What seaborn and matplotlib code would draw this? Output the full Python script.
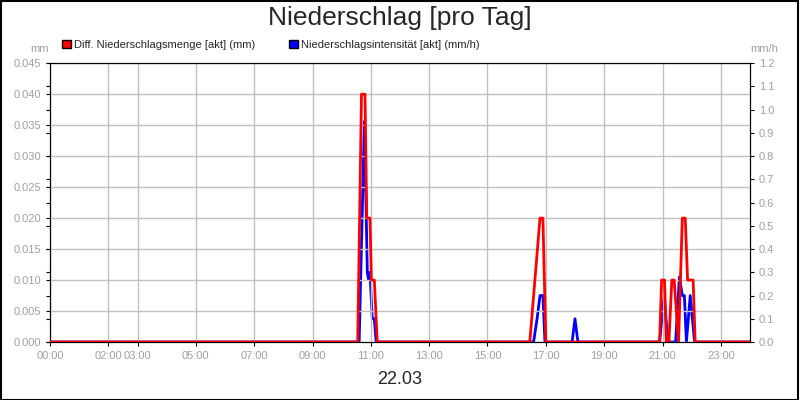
import seaborn as sns
import matplotlib.pyplot as plt
import pandas as pd
from matplotlib.patches import Patch

# hours of day, values
red_hours = [0, 10.55, 10.68, 10.80, 10.86, 10.97, 11.02, 11.12, 11.22, 16.45, 16.80, 16.90, 17.00,
             20.90, 20.97, 21.07, 21.13, 21.22, 21.32, 21.40, 21.55, 21.68, 21.78, 21.86, 22.05, 22.12, 24]
red_mm = [0, 0, 0.04, 0.04, 0.02, 0.02, 0.01, 0.01, 0, 0, 0.02, 0.02, 0,
          0, 0.01, 0.01, 0, 0, 0.01, 0.01, 0, 0.02, 0.02, 0.01, 0.01, 0, 0]

blue_hours = [0, 10.60, 10.78, 10.88, 10.92, 10.97, 11.05, 11.12, 11.18, 16.58, 16.70, 16.80, 16.90, 16.97,
              17.90, 18.00, 18.10, 20.90, 21.06, 21.18, 21.45, 21.58, 21.68, 21.75, 21.82, 21.95, 22.10, 24]
blue_mmh = [0, 0, 0.95, 0.3, 0.27, 0.3, 0.1, 0.1, 0, 0, 0.1, 0.2, 0.2, 0,
            0, 0.1, 0, 0, 0.2, 0, 0, 0.28, 0.2, 0.2, 0, 0.2, 0, 0]

tick_pos = [0, 2, 3, 5, 7, 9, 11, 13, 15, 17, 19, 21, 23]
tick_lab = ['00:00', '02:00', '03:00', '05:00', '07:00', '09:00', '11:00', '13:00',
            '15:00', '17:00', '19:00', '21:00', '23:00']

red_df = pd.DataFrame({'h': red_hours, 'v': red_mm})
blue_df = pd.DataFrame({'h': blue_hours, 'v': blue_mmh})

sns.set_style('white')
plt.rcParams['font.family'] = ['Liberation Sans', 'DejaVu Sans']
fig = plt.figure(figsize=(8, 4), dpi=100)
ax = fig.add_axes([0.0625, 0.145, 0.875, 0.697])
ax2 = ax.twinx()

sns.lineplot(data=red_df, x='h', y='v', ax=ax, color='#ff0000', lw=2, zorder=3)
sns.lineplot(data=blue_df, x='h', y='v', ax=ax2, color='#0000ff', lw=2, zorder=2)
ax.set_zorder(ax2.get_zorder() + 1)
ax.patch.set_visible(False)

ax.set_xlim(0, 24)
ax.set_ylim(0, 0.045)
ax2.set_ylim(0, 1.2)
ax.set_yticks([i * 0.005 for i in range(10)])
ax.set_yticklabels([f'{i * 0.005:.3f}' for i in range(10)])
ax2.set_yticks([i * 0.1 for i in range(13)])
ax2.set_yticklabels([f'{i * 0.1:.1f}' for i in range(13)])
ax.set_xticks(tick_pos)
ax.set_xticklabels(tick_lab)
ax.grid(True, color='#c0c0c0', lw=1)
ax2.grid(False)
for a in (ax, ax2):
    a.tick_params(labelsize=8, colors='#a0a0a0', length=3, direction='out', left=True, bottom=True)
    a.tick_params(axis='both', which='both', color='black')
    a.set_xlabel('')
    a.set_ylabel('')
    for s in a.spines.values():
        s.set_color('black')
ax2.tick_params(right=True)

fig.text(0.5, 0.955, 'Niederschlag [pro Tag]', ha='center', va='center', fontsize=19)
fig.text(0.5, 0.05, '22.03', ha='center', va='center', fontsize=13)
fig.text(0.05, 0.878, 'mm', ha='center', va='center', fontsize=8, color='#a0a0a0')
fig.text(0.955, 0.878, 'mm/h', ha='center', va='center', fontsize=8, color='#a0a0a0')
handles = [Patch(facecolor='red', edgecolor='black', label='Diff. Niederschlagsmenge [akt] (mm)'),
           Patch(facecolor='blue', edgecolor='black', label='Niederschlagsintensität [akt] (mm/h)')]
fig.legend(handles=handles, loc='center left', bbox_to_anchor=(0.065, 0.888), ncol=2, frameon=False,
           fontsize=8, handlelength=0.8, handleheight=0.8, handletextpad=0.3, columnspacing=3)
fig.patches.append(plt.Rectangle((0.001, 0.001), 0.997, 0.997, transform=fig.transFigure,
                                 fill=False, edgecolor='black', lw=1.5))
fig.savefig('out.png', dpi=100)
